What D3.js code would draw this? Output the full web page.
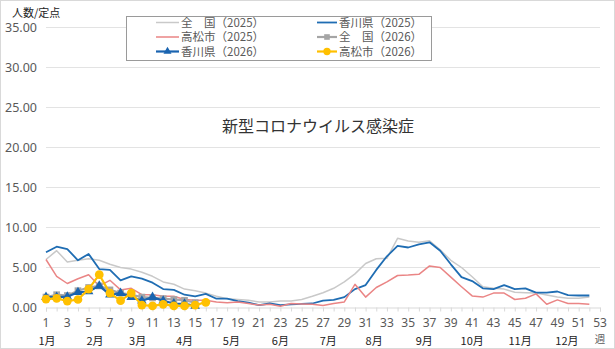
<!DOCTYPE html>
<html><head><meta charset="utf-8">
<script src="https://cdn.jsdelivr.net/npm/d3@7"></script>
<style>
html,body{margin:0;padding:0;background:#fff;}
svg{display:block;font-family:"Noto Sans CJK JP","Noto Sans",sans-serif;}
</style></head>
<body><svg id="c" width="615" height="349"></svg>
<script>
// ---- data ----
const weeks = d3.range(1, 54);
const weekTicks = d3.range(1, 54, 2);
const yTicks = [0, 5, 10, 15, 20, 25, 30, 35];
const months = ["1月","2月","3月","4月","5月","6月","7月","8月","9月","10月","11月","12月"];
const monthWeekPos = [1.1, 5.6, 9.6, 14, 18.4, 23, 27.5, 31.8, 36.5, 41, 45.5, 49.9];

const nat2025 = [6.0,7.1,5.7,5.9,6.1,5.9,5.4,5.0,4.8,4.4,3.9,3.2,2.9,2.3,2.1,1.8,1.4,1.1,1.0,0.9,0.7,0.7,0.8,0.8,1.0,1.4,1.85,2.4,3.2,4.2,5.5,6.1,6.15,8.65,8.3,8.15,8.35,7.2,5.9,5.0,3.85,2.6,2.4,2.3,1.9,1.85,1.8,1.55,1.3,1.15,1.15,1.3];
const kag2025 = [6.9,7.6,7.3,5.9,6.7,4.8,4.7,3.4,3.9,3.6,3.1,2.3,2.2,1.6,1.4,1.7,1.1,1.1,0.8,0.6,0.3,0.5,0.3,0.4,0.45,0.5,0.85,0.95,1.3,2.3,2.8,4.7,6.4,7.7,7.5,7.9,8.15,7.1,5.4,3.8,3.3,2.4,2.3,2.8,2.3,2.4,1.85,1.85,2.0,1.55,1.5,1.5];
const tak2025 = [6.0,3.9,3.0,3.6,4.1,2.7,3.4,2.2,2.4,1.6,1.6,1.4,1.4,1.0,0.9,0.9,0.7,0.6,0.7,0.5,0.3,0.4,0.15,0.5,0.45,0.4,0.25,0.5,0.7,2.9,1.3,2.5,3.2,4.0,4.05,4.15,5.2,5.0,3.8,2.6,1.45,1.3,1.8,1.8,1.0,1.15,1.7,0.4,0.95,0.5,0.5,0.4];
const nat2026 = [1.3,1.6,1.5,2.1,2.5,2.7,2.2,1.8,1.6,1.3,1.2,1.1,1.0,0.9,0.6];
const kag2026 = [1.3,1.3,1.35,1.9,2.0,2.7,1.6,1.8,1.3,0.85,1.3,0.85,0.5,0.45,0.2];
const tak2026 = [1.05,1.15,0.8,1.0,2.3,4.1,1.8,0.85,1.8,0.3,0.2,0.4,0.2,0.2,0.3,0.65];

const seriesNames = ["全　国（2025）","香川県（2025）","高松市（2025）","全　国（2026）","香川県（2026）","高松市（2026）"];
const title = "新型コロナウイルス感染症";
const yTitle = "人数/定点";
const weekUnit = "週";

// ---- layout ----
const svg = d3.select("#c");
const W = 615, H = 349;
const x = d3.scaleLinear().domain([1, 53]).range([46, 600]);
const y = d3.scaleLinear().domain([0, 35]).range([307.5, 27.5]);

svg.append("rect").attr("x",0.5).attr("y",0.5).attr("width",W-1).attr("height",H-1)
  .attr("fill","#fff").attr("stroke","#d9d9d9");

// gridlines
svg.append("g").selectAll("line").data(yTicks.filter(d=>d>0)).join("line")
  .attr("x1", x(1)).attr("x2", x(53))
  .attr("y1", d=>y(d)).attr("y2", d=>y(d))
  .attr("stroke","#e3e3e3").attr("stroke-width",1);

// y axis labels
const yAxis = d3.axisLeft(y).tickValues(yTicks).tickFormat(d3.format(".2f")).tickSize(0).tickPadding(0);
const gy = svg.append("g").attr("transform","translate(37,0)").call(yAxis);
gy.select(".domain").remove();
gy.selectAll("text").attr("fill","#595959").style("font-size","12.5px").style("font-family","'Noto Sans','DejaVu Sans',sans-serif");

// x axis
const xAxis = d3.axisBottom(x).tickValues(weeks).tickSize(4).tickFormat("");
const gx = svg.append("g").attr("transform",`translate(0,${y(0)})`).call(xAxis);
gx.select(".domain").attr("stroke","#d9d9d9");
gx.selectAll(".tick line").attr("stroke","#d9d9d9");
svg.append("g").selectAll("text").data(weekTicks).join("text")
  .attr("x", d=>x(d)).attr("y", 327)
  .attr("text-anchor","middle").attr("fill","#595959")
  .style("font-size","12px").style("font-family","'Noto Sans','DejaVu Sans',sans-serif")
  .text(d=>d);
svg.append("text").attr("x", x(53)).attr("y", 342.5).attr("text-anchor","middle")
  .attr("fill","#595959").style("font-size","10.5px").text(weekUnit);
svg.append("g").selectAll("text").data(months).join("text")
  .attr("x", (d,i)=>x(monthWeekPos[i])).attr("y", 345)
  .attr("text-anchor","middle").attr("fill","#222")
  .style("font-size","11px").text(d=>d);

// titles
svg.append("text").attr("x",12).attr("y",17).attr("fill","#222").style("font-size","11px").text(yTitle);
svg.append("text").attr("x",318).attr("y",132).attr("text-anchor","middle").attr("fill","#333")
  .style("font-size","16px").text(title);

// series
const line = d3.line().x(d=>x(d[0])).y(d=>y(d[1]));
const toPts = arr => arr.map((v,i)=>[i+1, v]);
const styles = [
  {data:nat2025, color:"#c9c9c9", w:1.5, marker:null},
  {data:kag2025, color:"#1f6db3", w:1.8, marker:null},
  {data:tak2025, color:"#ea8585", w:1.5, marker:null},
  {data:nat2026, color:"#a5a5a5", w:2.2, marker:"square"},
  {data:kag2026, color:"#1a64b0", w:2.2, marker:"triangle"},
  {data:tak2026, color:"#ffc000", w:2.2, marker:"circle"}
];
const symType = {square:d3.symbolSquare, triangle:d3.symbolTriangle, circle:d3.symbolCircle};
const symSize = {square:45, triangle:40, circle:60};

styles.forEach(s=>{
  const pts = toPts(s.data);
  svg.append("path").datum(pts).attr("d", line).attr("fill","none")
    .attr("stroke", s.color).attr("stroke-width", s.w).attr("stroke-linejoin","round");
  if (s.marker){
    svg.append("g").selectAll("path").data(pts).join("path")
      .attr("transform", d=>`translate(${x(d[0])},${y(d[1])})`)
      .attr("d", d3.symbol(symType[s.marker], symSize[s.marker]))
      .attr("fill", s.color);
  }
});

// legend
const lg = svg.append("g");
lg.append("rect").attr("x",126.5).attr("y",16.5).attr("width",305).attr("height",44)
  .attr("fill","#fff").attr("stroke","#9a9a9a");
const legPos = [[156,22.5],[317,22.5],[156,37],[317,37],[156,51.5],[317,51.5]];
styles.forEach((s,i)=>{
  const [lx, ly] = legPos[i];
  const lw = i%2===0 ? 23 : 20;
  lg.append("line").attr("x1",lx).attr("x2",lx+lw).attr("y1",ly).attr("y2",ly)
    .attr("stroke", s.color).attr("stroke-width", s.w);
  if (s.marker){
    lg.append("path").attr("transform",`translate(${lx+lw/2},${ly})`)
      .attr("d", d3.symbol(symType[s.marker], symSize[s.marker]*0.7)).attr("fill", s.color);
  }
  lg.append("text").attr("x", lx+lw+2).attr("y", ly+4).attr("fill","#595959")
    .style("font-size","11.5px").text(seriesNames[i]);
});
</script></body></html>
